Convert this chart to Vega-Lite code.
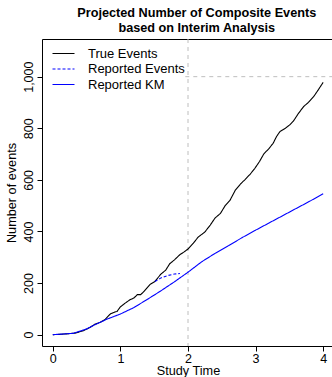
{
  "$schema": "https://vega.github.io/schema/vega-lite/v6.json",
  "width": 292,
  "height": 307,
  "autosize": {"type": "none"},
  "padding": {"left": 42, "top": 39, "right": 0, "bottom": 31},
  "background": "white",
  "title": {
    "text": ["Projected Number of Composite Events", "based on Interim Analysis"],
    "font": "Liberation Sans",
    "fontSize": 12.7,
    "fontWeight": "bold",
    "color": "black",
    "anchor": "middle",
    "frame": "group",
    "lineHeight": 15,
    "offset": 4,
    "dx": 8.75
  },
  "config": {
    "view": {"stroke": null},
    "axis": {
      "domain": true,
      "domainColor": "black",
      "domainWidth": 1,
      "grid": false,
      "ticks": true,
      "tickColor": "black",
      "tickSize": 5,
      "tickWidth": 1,
      "labelFont": "Liberation Sans",
      "labelFontSize": 12.5,
      "labelColor": "black",
      "titleFont": "Liberation Sans",
      "titleFontSize": 12.7,
      "titleFontWeight": "normal",
      "titleColor": "black"
    }
  },
  "resolve": {"axis": {"x": "independent"}},
  "datasets": {
    "curves": [
      {"t": 0, "events": 0, "series": "True Events"},
      {"t": 0.1, "events": 1, "series": "True Events"},
      {"t": 0.2, "events": 3, "series": "True Events"},
      {"t": 0.33, "events": 6, "series": "True Events"},
      {"t": 0.45, "events": 15, "series": "True Events"},
      {"t": 0.55, "events": 28, "series": "True Events"},
      {"t": 0.62, "events": 40, "series": "True Events"},
      {"t": 0.7, "events": 48, "series": "True Events"},
      {"t": 0.77, "events": 58, "series": "True Events"},
      {"t": 0.85, "events": 80, "series": "True Events"},
      {"t": 0.92, "events": 88, "series": "True Events"},
      {"t": 0.95, "events": 90, "series": "True Events"},
      {"t": 1.0, "events": 108, "series": "True Events"},
      {"t": 1.07, "events": 122, "series": "True Events"},
      {"t": 1.14, "events": 135, "series": "True Events"},
      {"t": 1.2, "events": 142, "series": "True Events"},
      {"t": 1.25, "events": 155, "series": "True Events"},
      {"t": 1.3, "events": 155, "series": "True Events"},
      {"t": 1.35, "events": 168, "series": "True Events"},
      {"t": 1.44, "events": 195, "series": "True Events"},
      {"t": 1.51, "events": 206, "series": "True Events"},
      {"t": 1.6, "events": 235, "series": "True Events"},
      {"t": 1.67, "events": 250, "series": "True Events"},
      {"t": 1.73, "events": 275, "series": "True Events"},
      {"t": 1.8, "events": 290, "series": "True Events"},
      {"t": 1.88, "events": 310, "series": "True Events"},
      {"t": 1.95, "events": 322, "series": "True Events"},
      {"t": 2.0, "events": 332, "series": "True Events"},
      {"t": 2.08, "events": 355, "series": "True Events"},
      {"t": 2.15, "events": 378, "series": "True Events"},
      {"t": 2.25, "events": 398, "series": "True Events"},
      {"t": 2.33, "events": 425, "series": "True Events"},
      {"t": 2.4, "events": 452, "series": "True Events"},
      {"t": 2.48, "events": 470, "series": "True Events"},
      {"t": 2.55, "events": 500, "series": "True Events"},
      {"t": 2.62, "events": 520, "series": "True Events"},
      {"t": 2.7, "events": 560, "series": "True Events"},
      {"t": 2.78, "events": 585, "series": "True Events"},
      {"t": 2.84, "events": 600, "series": "True Events"},
      {"t": 2.92, "events": 622, "series": "True Events"},
      {"t": 2.99, "events": 645, "series": "True Events"},
      {"t": 3.06, "events": 672, "series": "True Events"},
      {"t": 3.12, "events": 700, "series": "True Events"},
      {"t": 3.2, "events": 722, "series": "True Events"},
      {"t": 3.26, "events": 742, "series": "True Events"},
      {"t": 3.31, "events": 768, "series": "True Events"},
      {"t": 3.36, "events": 787, "series": "True Events"},
      {"t": 3.44, "events": 800, "series": "True Events"},
      {"t": 3.5, "events": 812, "series": "True Events"},
      {"t": 3.56, "events": 828, "series": "True Events"},
      {"t": 3.63, "events": 856, "series": "True Events"},
      {"t": 3.71, "events": 884, "series": "True Events"},
      {"t": 3.78, "events": 900, "series": "True Events"},
      {"t": 3.86, "events": 923, "series": "True Events"},
      {"t": 3.93, "events": 950, "series": "True Events"},
      {"t": 4.0, "events": 978, "series": "True Events"},
      {"t": 1.51, "events": 206, "series": "Reported Events"},
      {"t": 1.6, "events": 220, "series": "Reported Events"},
      {"t": 1.7, "events": 229, "series": "Reported Events"},
      {"t": 1.8, "events": 235, "series": "Reported Events"},
      {"t": 1.88, "events": 237, "series": "Reported Events"},
      {"t": 0, "events": 0, "series": "Reported KM"},
      {"t": 0.3, "events": 5, "series": "Reported KM"},
      {"t": 0.5, "events": 22, "series": "Reported KM"},
      {"t": 0.62, "events": 38, "series": "Reported KM"},
      {"t": 0.8, "events": 60, "series": "Reported KM"},
      {"t": 1.0, "events": 80, "series": "Reported KM"},
      {"t": 1.2, "events": 105, "series": "Reported KM"},
      {"t": 1.4, "events": 137, "series": "Reported KM"},
      {"t": 1.6, "events": 170, "series": "Reported KM"},
      {"t": 1.8, "events": 205, "series": "Reported KM"},
      {"t": 2.0, "events": 242, "series": "Reported KM"},
      {"t": 2.2, "events": 282, "series": "Reported KM"},
      {"t": 2.4, "events": 315, "series": "Reported KM"},
      {"t": 2.6, "events": 345, "series": "Reported KM"},
      {"t": 2.8, "events": 376, "series": "Reported KM"},
      {"t": 3.0, "events": 405, "series": "Reported KM"},
      {"t": 3.2, "events": 433, "series": "Reported KM"},
      {"t": 3.4, "events": 461, "series": "Reported KM"},
      {"t": 3.6, "events": 489, "series": "Reported KM"},
      {"t": 3.8, "events": 517, "series": "Reported KM"},
      {"t": 4.0, "events": 546, "series": "Reported KM"}
    ]
  },
  "layer": [
    {
      "data": {"values": [{"t": 2}]},
      "mark": {"type": "rule", "color": "#BEBEBE", "strokeDash": [4, 4], "strokeWidth": 1},
      "encoding": {
        "x": {"field": "t", "type": "quantitative", "scale": {"domain": [-0.16, 4.16], "nice": false, "zero": false},
              "axis": {"orient": "top", "labels": false, "ticks": false, "title": null, "domain": true}}
      }
    },
    {
      "data": {"values": [{"events": 1000, "from": 1.96, "to": 4.2}]},
      "mark": {"type": "rule", "color": "#BEBEBE", "strokeDash": [4, 4], "strokeWidth": 1, "clip": true},
      "encoding": {
        "x": {"field": "from", "type": "quantitative", "axis": null},
        "x2": {"field": "to"},
        "y": {"field": "events", "type": "quantitative", "scale": {"domain": [-44, 1146], "nice": false, "zero": false}}
      }
    },
    {
      "data": {"name": "curves"},
      "transform": [{"filter": "datum.series === 'True Events'"}],
      "mark": {"type": "line", "strokeWidth": 1.1, "clip": true},
      "encoding": {
        "x": {"field": "t", "type": "quantitative", "scale": {"domain": [-0.16, 4.16], "nice": false, "zero": false},
              "axis": {"orient": "bottom", "values": [0, 1, 2, 3, 4], "format": "d", "title": "Study Time", "labelPadding": 1, "titlePadding": 0}},
        "y": {"field": "events", "type": "quantitative", "scale": {"domain": [-44, 1146], "nice": false, "zero": false},
              "axis": {"values": [0, 200, 400, 600, 800, 1000], "title": "Number of events", "labelAngle": 270, "labelAlign": "center", "labelBaseline": "bottom", "labelPadding": 2, "titlePadding": 4}},
        "color": {"field": "series", "type": "nominal",
                  "scale": {"domain": ["True Events", "Reported Events", "Reported KM"], "range": ["black", "blue", "blue"]},
                  "legend": {"title": null, "orient": "none", "legendX": 5, "legendY": 5, "symbolType": "M-1,0H4.5", "symbolSize": 64, "symbolStrokeWidth": 1.1, "labelFont": "Liberation Sans", "labelFontSize": 13, "labelColor": "black", "labelOffset": 25, "rowPadding": 1.5, "padding": 3,
                             "encode": {"symbols": {"update": {
                               "strokeDash": {"signal": "datum.value === 'Reported Events' ? [3, 2] : [1, 0]"},
                               "stroke": {"signal": "datum.value === 'True Events' ? 'black' : 'blue'"}}}}}},
        "strokeDash": {"field": "series", "type": "nominal",
                  "scale": {"domain": ["True Events", "Reported Events", "Reported KM"], "range": [[1, 0], [3, 2], [1, 0]]},
                  "legend": null}
      }
    },
    {
      "data": {"name": "curves"},
      "transform": [{"filter": "datum.series === 'Reported Events'"}],
      "mark": {"type": "line", "strokeWidth": 1.1, "clip": true},
      "encoding": {
        "x": {"field": "t", "type": "quantitative", "axis": null},
        "y": {"field": "events", "type": "quantitative"},
        "color": {"field": "series", "type": "nominal"},
        "strokeDash": {"field": "series", "type": "nominal", "legend": null}
      }
    },
    {
      "data": {"name": "curves"},
      "transform": [{"filter": "datum.series === 'Reported KM'"}],
      "mark": {"type": "line", "strokeWidth": 1.1, "clip": true},
      "encoding": {
        "x": {"field": "t", "type": "quantitative", "axis": null},
        "y": {"field": "events", "type": "quantitative"},
        "color": {"field": "series", "type": "nominal"},
        "strokeDash": {"field": "series", "type": "nominal", "legend": null}
      }
    }
  ]
}
